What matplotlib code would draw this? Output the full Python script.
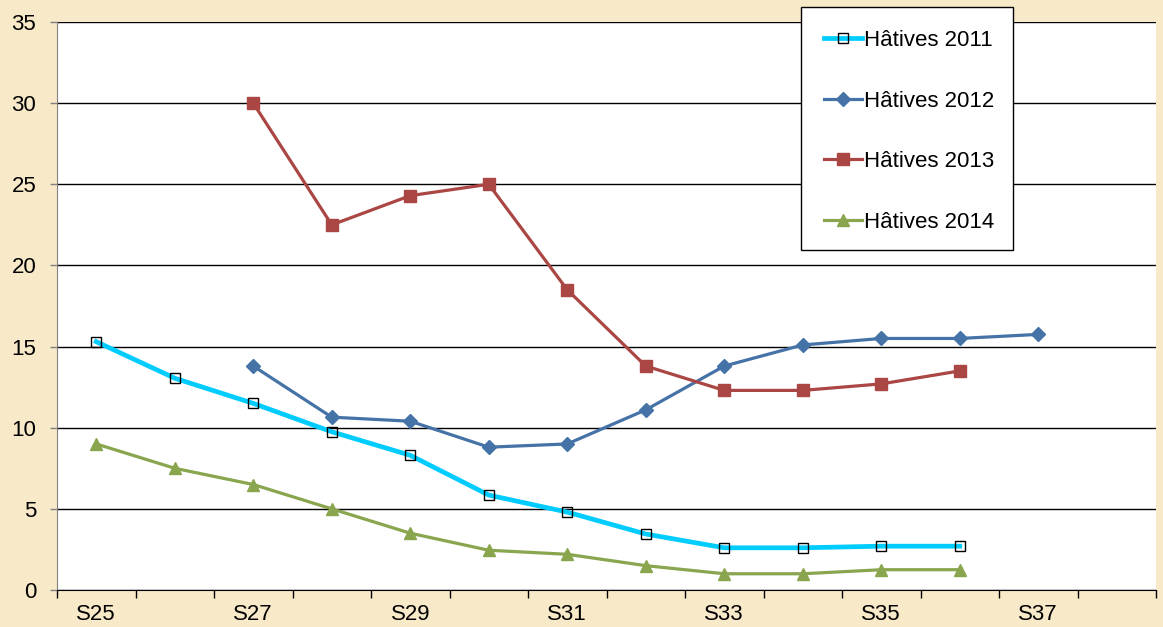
import matplotlib.pyplot as plt
from matplotlib.patches import Rectangle

plt.rcParams['font.family'] = ['Liberation Sans', 'DejaVu Sans']

weeks = ['S25', 'S26', 'S27', 'S28', 'S29', 'S30', 'S31', 'S32',
         'S33', 'S34', 'S35', 'S36', 'S37', 'S38']

# None = pas de valeur cette semaine
hatives_2011 = [15.3, 13.05, 11.5, 9.75, 8.3, 5.85, 4.8, 3.45, 2.6, 2.6, 2.7, 2.7, None, None]
hatives_2012 = [None, None, 13.8, 10.65, 10.4, 8.8, 9.0, 11.1, 13.8, 15.1, 15.5, 15.5, 15.75, None]
hatives_2013 = [None, None, 30.0, 22.5, 24.3, 25.0, 18.5, 13.8, 12.3, 12.3, 12.7, 13.5, None, None]
hatives_2014 = [9.0, 7.5, 6.5, 5.0, 3.5, 2.45, 2.2, 1.5, 1.0, 1.0, 1.25, 1.25, None, None]

yticks = [0, 5, 10, 15, 20, 25, 30, 35]


def pts(values):
    xs = [i for i, v in enumerate(values) if v is not None]
    ys = [v for v in values if v is not None]
    return xs, ys


W, H = 1163, 627
fig = plt.figure(figsize=(W / 100, H / 100), dpi=100)
fig.patch.set_facecolor('#f8e9c9')

ax = fig.add_axes([57 / W, 1 - 590 / H, (1156 - 57) / W, (590 - 22) / H])
ax.set_facecolor('white')

x, y = pts(hatives_2011)
ax.plot(x, y, color='#00ccff', lw=3.4, marker='s', ms=7.5, mfc='none',
        mec='black', mew=1.0, label='Hâtives 2011', zorder=4)
x, y = pts(hatives_2012)
ax.plot(x, y, color='#4572a7', lw=2.3, marker='D', ms=7, label='Hâtives 2012', zorder=3)
x, y = pts(hatives_2013)
ax.plot(x, y, color='#aa4643', lw=2.3, marker='s', ms=8, label='Hâtives 2013', zorder=3)
x, y = pts(hatives_2014)
ax.plot(x, y, color='#89a54e', lw=2.3, marker='^', ms=9, label='Hâtives 2014', zorder=3)

ax.set_xlim(-0.5, len(weeks) - 0.5)
ax.set_ylim(0, 35)
ax.set_yticks(yticks)
ax.yaxis.grid(True, color='black', lw=1.0)
ax.set_axisbelow(True)
ax.tick_params(axis='y', length=5, width=1, color='#808080', labelsize=16, pad=10)

# graduations entre catégories, étiquettes une semaine sur deux
ax.set_xticks([i - 0.5 for i in range(len(weeks) + 1)])
ax.set_xticklabels([])
ax.set_xticks(range(len(weeks)), minor=True)
ax.set_xticklabels([w if i % 2 == 0 else '' for i, w in enumerate(weeks)], minor=True)
ax.tick_params(axis='x', which='major', length=6, width=1, color='black')
ax.tick_params(axis='x', which='minor', length=0, labelsize=16, pad=10)

for s in ['top', 'right']:
    ax.spines[s].set_visible(False)
ax.spines['left'].set_color('#808080')
ax.spines['bottom'].set_color('black')

# cadre de la légende
fig.patches.append(Rectangle((801 / W, 1 - 250 / H), (1013 - 801) / W, (250 - 7) / H,
                             transform=fig.transFigure, facecolor='white',
                             edgecolor='black', lw=1.0, zorder=5))
leg = fig.legend(loc='upper left', bbox_to_anchor=(804 / W, 1 - 10 / H), frameon=False,
                 fontsize=16, handlelength=1.7, handletextpad=0.1, labelspacing=1.78)
leg.set_zorder(6)

fig.savefig('out.png', dpi=100, facecolor=fig.get_facecolor())
